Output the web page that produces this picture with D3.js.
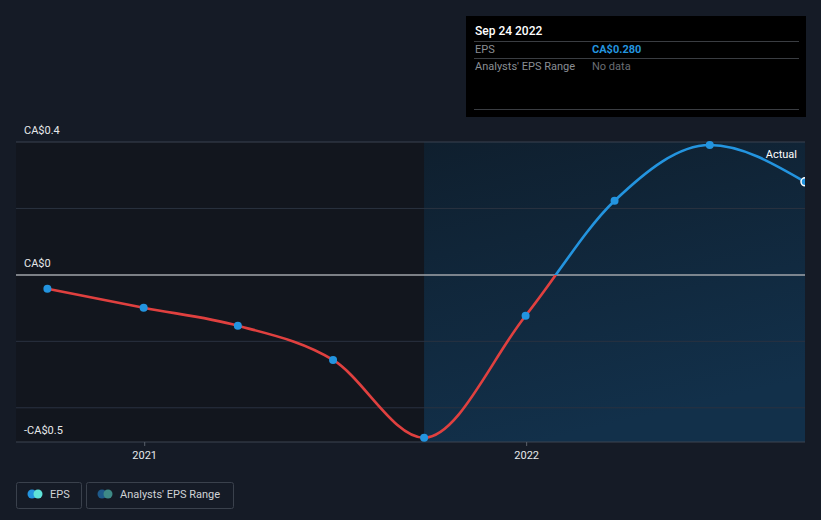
<!DOCTYPE html>
<html><head><meta charset="utf-8">
<script src="https://cdn.jsdelivr.net/npm/d3@7"></script>
<style>
body{margin:0;background:#151b26;}
svg{display:block;font-family:Roboto,"Open Sans",sans-serif;}
</style></head>
<body><svg id="c" width="821" height="520"></svg>
<script>
const dates = ["2020-09-30","2020-12-31","2021-03-31","2021-06-30","2021-09-25","2021-12-31","2022-03-26","2022-06-25","2022-09-24"];
const eps = [-0.042,-0.099,-0.153,-0.256,-0.49,-0.123,0.223,0.391,0.280];
const yTicks = [0.4,0,-0.5];
const yTickLabels = ["CA$0.4","CA$0","-CA$0.5"];
const gridVals = [0.2,-0.2,-0.4];
const xTicks = ["2021-01-01","2022-01-01"];
const xTickLabels = ["2021","2022"];
const forecastStart = "2021-09-25";

const parse = d3.timeParse("%Y-%m-%d");
const data = dates.map((d,i)=>({date:parse(d),v:eps[i]}));
const svg = d3.select("#c");
const L=16,R=805,T=142,B=442;
const x = d3.scaleTime().range([L,R]);
x.domain([d3.timeDay.offset(parse("2021-01-01"), -Math.round((145-L)/382*365)), parse("2022-09-24")]);
const y = d3.scaleLinear().domain([-0.5,0.4]).range([441,T]);

const defs = svg.append("defs");
const bg = defs.append("linearGradient").attr("id","bgG").attr("x1",0).attr("y1",0).attr("x2",0.3).attr("y2",1);
bg.append("stop").attr("offset","0%").attr("stop-color","#0f1f2e");
bg.append("stop").attr("offset","100%").attr("stop-color","#12304a");

const xs = x(parse(forecastStart));
svg.append("rect").attr("x",L).attr("y",T).attr("width",xs-L).attr("height",B-T).attr("fill","#12161e");
svg.append("rect").attr("x",xs).attr("y",T).attr("width",R-xs).attr("height",B-T).attr("fill","url(#bgG)");

svg.selectAll(".g").data(gridVals).enter().append("line")
  .attr("x1",L).attr("x2",R).attr("y1",d=>y(d)).attr("y2",d=>y(d))
  .attr("stroke","#2a3240").attr("stroke-width",1);
svg.append("line").attr("x1",L).attr("x2",R).attr("y1",y(0.4)).attr("y2",y(0.4)).attr("stroke","#3a4350");
svg.append("line").attr("x1",L).attr("x2",R).attr("y1",y(0)).attr("y2",y(0)).attr("stroke","#a0a4aa").attr("stroke-width",1.5);
svg.append("line").attr("x1",L).attr("x2",R).attr("y1",B).attr("y2",B).attr("stroke","#3d4450");

svg.selectAll(".yl").data(yTicks).enter().append("text")
  .attr("x",24).attr("y",(d,i)=> i==2 ? y(d)-7 : y(d)-8)
  .attr("fill","#e6e8ea").attr("font-size",11).text((d,i)=>yTickLabels[i]);

svg.selectAll(".xt").data(xTicks).enter().append("line")
  .attr("x1",d=>x(parse(d))).attr("x2",d=>x(parse(d))).attr("y1",B).attr("y2",B+4).attr("stroke","#5a616b");
svg.selectAll(".xl").data(xTicks).enter().append("text")
  .attr("x",d=>x(parse(d))).attr("y",B+17).attr("text-anchor","middle")
  .attr("fill","#e6e8ea").attr("font-size",11).text((d,i)=>xTickLabels[i]);

const lg = defs.append("linearGradient").attr("id","lineG").attr("gradientUnits","userSpaceOnUse")
  .attr("x1",0).attr("x2",0).attr("y1",y(0.4)).attr("y2",y(-0.5));
const z = (y(0)-y(0.4))/(y(-0.5)-y(0.4));
lg.append("stop").attr("offset",z).attr("stop-color","#2394df");
lg.append("stop").attr("offset",z).attr("stop-color","#e0403f");

const line = d3.line().x(d=>x(d.date)).y(d=>y(d.v)).curve(d3.curveMonotoneX);
svg.append("path").datum(data).attr("d",line).attr("fill","none").attr("stroke","url(#lineG)").attr("stroke-width",2.6);

svg.selectAll(".pt").data(data.slice(0,-1)).enter().append("circle")
  .attr("cx",d=>x(d.date)).attr("cy",d=>y(d.v)).attr("r",4).attr("fill","#2394df");

svg.append("text").attr("x",797).attr("y",158).attr("text-anchor","end").attr("fill","#ffffff").attr("font-size",11).text("Actual");

svg.append("rect").attr("x",R).attr("y",0).attr("width",821-R).attr("height",520).attr("fill","#151b26");
defs.append("clipPath").attr("id","lc").append("rect").attr("x",0).attr("y",0).attr("width",R).attr("height",520);
const last = data[data.length-1];
svg.append("circle").attr("cx",x(last.date)).attr("cy",y(last.v)).attr("r",4).attr("fill","#2394df")
  .attr("stroke","#ffffff").attr("stroke-width",1.5).attr("clip-path","url(#lc)");

const tt = svg.append("g");
tt.append("rect").attr("x",466).attr("y",16).attr("width",340).attr("height",101).attr("fill","#000000");
tt.append("text").attr("x",475).attr("y",35).attr("fill","#ffffff").attr("font-size",12).attr("font-weight",500).text("Sep 24 2022");
[41,58,109].forEach(yy=>tt.append("line").attr("x1",474).attr("x2",799).attr("y1",yy+0.5).attr("y2",yy+0.5).attr("stroke","#3a3d42"));
tt.append("text").attr("x",475).attr("y",53).attr("fill","#8a8e94").attr("font-size",11).text("EPS");
tt.append("text").attr("x",592).attr("y",53).attr("fill","#2394df").attr("font-size",11).attr("font-weight",700).text("CA$" + last.v.toFixed(3));
tt.append("text").attr("x",475).attr("y",70).attr("fill","#8a8e94").attr("font-size",11).text("Analysts' EPS Range");
tt.append("text").attr("x",592).attr("y",70).attr("fill","#6a6e74").attr("font-size",11).text("No data");

const lgd = svg.append("g");
lgd.append("rect").attr("x",16.5).attr("y",482.5).attr("width",65).attr("height",26).attr("rx",2).attr("fill","none").attr("stroke","#3a414c");
lgd.append("circle").attr("cx",32).attr("cy",494).attr("r",4.5).attr("fill","#2394df");
lgd.append("circle").attr("cx",38).attr("cy",494).attr("r",4.5).attr("fill","#5fe3d8");
lgd.append("text").attr("x",50).attr("y",498).attr("fill","#d0d3d6").attr("font-size",11).text("EPS");
lgd.append("rect").attr("x",86.5).attr("y",482.5).attr("width",147).attr("height",26).attr("rx",2).attr("fill","none").attr("stroke","#3a414c");
lgd.append("circle").attr("cx",102).attr("cy",494).attr("r",4.5).attr("fill","#1e5a8a");
lgd.append("circle").attr("cx",108).attr("cy",494).attr("r",4.5).attr("fill","#3e8a86");
lgd.append("text").attr("x",120).attr("y",498).attr("fill","#d0d3d6").attr("font-size",11).text("Analysts' EPS Range");
</script></body></html>
